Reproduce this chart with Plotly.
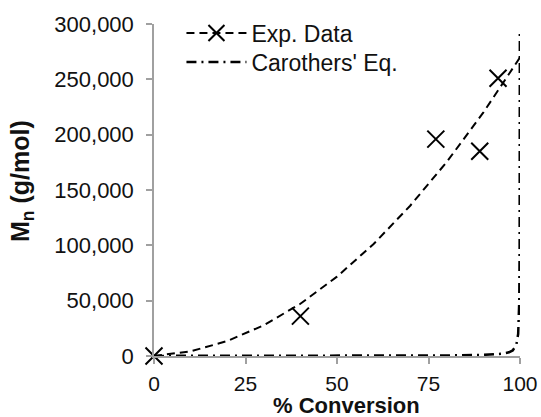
import plotly.graph_objects as go

# Experimental data (% conversion, Mn g/mol)
conversion = [0, 40, 77, 89, 94]
mn_exp = [0, 36000, 196000, 185000, 251000]

trend_x = [0, 10, 20, 30, 40, 50, 60, 70, 80, 90, 100]
trend_y = [0, 4200, 13500, 27800, 47200, 71700, 101200, 135800, 175400, 220100, 269800]

# Carothers' equation curve
car_x = [0, 10, 20, 30, 40, 50, 60, 70, 80, 90, 95, 97, 98, 99, 99.5, 99.8, 99.9, 99.96]
car_y = [100, 110, 130, 150, 170, 200, 250, 330, 500, 1000, 2000, 3300, 5000, 10000, 20000, 50000, 100000, 292000]

x_ticks = [0, 25, 50, 75, 100]
y_ticks = [0, 50000, 100000, 150000, 200000, 250000, 300000]

FONT = "Liberation Sans, Arial, sans-serif"
TXT = "#111111"
AX = "#a0a0a0"

fig = go.Figure()

fig.add_trace(go.Scatter(
    x=trend_x, y=trend_y, mode="lines", showlegend=False,
    line=dict(color="black", width=2, dash="8px,5px"), hoverinfo="skip"))

fig.add_trace(go.Scatter(
    x=car_x, y=car_y, mode="lines", name="Carothers' Eq.", legend="legend2",
    line=dict(color="black", width=2.5, dash="10px,5px,2px,5px")))

fig.add_trace(go.Scatter(
    x=conversion, y=mn_exp, mode="markers", showlegend=False, cliponaxis=False,
    marker=dict(symbol="x-thin", size=17, line=dict(color="black", width=2))))

# legend entry for experimental data (marker + dashed trendline)
fig.add_trace(go.Scatter(
    x=[None], y=[None], mode="lines+markers", name="Exp. Data", legend="legend",
    line=dict(color="black", width=2, dash="8px,5px"),
    marker=dict(symbol="x-thin", size=17, line=dict(color="black", width=2))))

leg_common = dict(xanchor="left", yanchor="middle", bgcolor="rgba(0,0,0,0)",
                  font=dict(size=23, color=TXT), itemwidth=60)

fig.update_layout(
    width=541, height=417,
    margin=dict(l=154, r=21, t=24, b=61, autoexpand=False),
    paper_bgcolor="white", plot_bgcolor="white",
    font=dict(family=FONT, size=22, color=TXT),
    legend=dict(x=0.075, y=(356 - 33) / 332, **leg_common),
    legend2=dict(x=0.075, y=(356 - 62) / 332, **leg_common),
    xaxis=dict(range=[0, 100], tickvals=x_ticks, ticktext=[str(v) for v in x_ticks],
               showgrid=False, zeroline=False, showline=True, linecolor=AX, linewidth=1.5,
               ticks="outside", ticklen=6, tickcolor=AX, tickwidth=1.5,
               ticklabelstandoff=2, automargin=False,
               tickfont=dict(size=21, color=TXT)),
    yaxis=dict(range=[0, 300000], tickvals=y_ticks, tickformat=",d",
               showgrid=False, zeroline=False, showline=True, linecolor=AX, linewidth=1.5,
               ticks="outside", ticklen=6, tickcolor=AX, tickwidth=1.5,
               ticklabelstandoff=8, automargin=False,
               tickfont=dict(size=22, color=TXT)),
    annotations=[
        dict(text="<b>% Conversion</b>", xref="paper", yref="paper",
             x=0.526, y=(356 - 405.5) / 332, xanchor="center", yanchor="middle",
             showarrow=False, font=dict(size=22, color=TXT)),
        dict(text="<b>M<sub>n</sub> (g/mol)</b>", xref="paper", yref="paper",
             x=-0.3607, y=0.527, xanchor="center", yanchor="middle", textangle=-90,
             showarrow=False, font=dict(size=25, color=TXT)),
    ],
)

fig.write_html("out.html", config={"displayModeBar": False},
               post_script="document.body.style.margin='0';document.body.style.padding='0';")
